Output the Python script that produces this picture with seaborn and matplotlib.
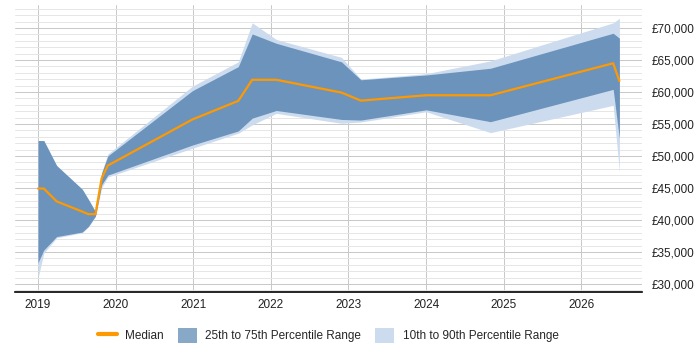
import matplotlib
matplotlib.use("Agg")
import matplotlib.pyplot as plt
from matplotlib.lines import Line2D
from matplotlib.patches import Patch
from matplotlib.ticker import FuncFormatter, MultipleLocator
import numpy as np
import pandas as pd
import seaborn as sns

# time points (decimal years)
years = [2019.0, 2019.075, 2019.24, 2019.57, 2019.65, 2019.74, 2019.82, 2019.90,
         2020.99, 2021.58, 2021.76, 2022.07, 2022.91, 2023.16, 2024.0, 2024.83,
         2026.41, 2026.49]
median = [44900, 44900, 42900, 41300, 40900, 40900, 46500, 48500,
          55700, 58600, 61900, 61900, 59900, 58640, 59480, 59480,
          64480, 61700]
p75 = [52400, 52400, 48500, 44800, 43200, 41300, 47300, 50000,
       60200, 63950, 69060, 67600, 64700, 61900, 62650, 63700,
       69170, 68400]
p25 = [33300, 35300, 37400, 38100, 39000, 40600, 45500, 47000,
       51700, 53900, 55900, 57100, 55700, 55600, 57200, 55350,
       60400, 52700]
p90 = [52400, 52400, 48500, 44800, 43200, 41300, 47500, 50300,
       60900, 64700, 70800, 68200, 65400, 62000, 62850, 64850,
       70800, 71500]
p10 = [30900, 34800, 37200, 38000, 38900, 40500, 45000, 46700,
       51200, 53550, 54850, 56650, 55100, 55300, 56900, 53640,
       57900, 47550]
year_ticks = [2019, 2020, 2021, 2022, 2023, 2024, 2025, 2026]

df = pd.DataFrame({"year": years, "median": median, "p25": p25, "p75": p75,
                   "p10": p10, "p90": p90})

sns.set_style("white")
plt.rcParams["font.family"] = ["Liberation Sans", "DejaVu Sans"]

DARK = "#6c93bc"
LIGHT = "#ccdcee"
ORANGE = "#ff9900"

fig = plt.figure(figsize=(7, 3.5), dpi=100)
ax = fig.add_axes([0.021, 0.166, 0.896, 0.82])

ax.fill_between(df["year"], df["p10"], df["p90"], color=LIGHT, lw=0, zorder=2)
ax.fill_between(df["year"], df["p25"], df["p75"], color=DARK, lw=0, zorder=3)
sns.lineplot(data=df, x="year", y="median", color=ORANGE, lw=1.6, ax=ax, zorder=4)

ax.set_xlim(2018.70, 2026.78)
ax.set_ylim(28750, 73600)
ax.set_xticks(year_ticks)
ax.set_xticklabels([str(y) for y in year_ticks])
ax.yaxis.set_major_locator(MultipleLocator(5000))
ax.yaxis.set_minor_locator(MultipleLocator(1000))
ax.yaxis.set_major_formatter(FuncFormatter(lambda v, p: "£{:,.0f}".format(v)))
ax.yaxis.tick_right()

ax.grid(which="major", axis="both", color="#c8c8c8", lw=0.7, zorder=1)
ax.grid(which="minor", axis="y", color="#e6e6e6", lw=0.7, zorder=1)
ax.set_axisbelow(True)

for s in ["top", "left", "right"]:
    ax.spines[s].set_visible(False)
ax.spines["bottom"].set_color("black")
ax.spines["bottom"].set_linewidth(1.2)

ax.tick_params(axis="x", length=0, pad=5, labelsize=8.5, colors="#222222")
ax.tick_params(axis="y", which="both", length=0, pad=7, labelsize=8.5, colors="#222222")
ax.set_xlabel("")
ax.set_ylabel("")

handles = [Line2D([0], [0], color=ORANGE, lw=3),
           Patch(facecolor="#88a8c8", edgecolor="none"),
           Patch(facecolor=LIGHT, edgecolor="none")]
labels = ["Median", "25th to 75th Percentile Range", "10th to 90th Percentile Range"]
ax.legend(handles, labels, loc="upper center", bbox_to_anchor=(0.5, -0.09),
          ncol=3, frameon=False, fontsize=8.5, handlelength=1.6,
          handleheight=1.5, columnspacing=1.2, handletextpad=0.7)

fig.savefig("out.png", dpi=100)
